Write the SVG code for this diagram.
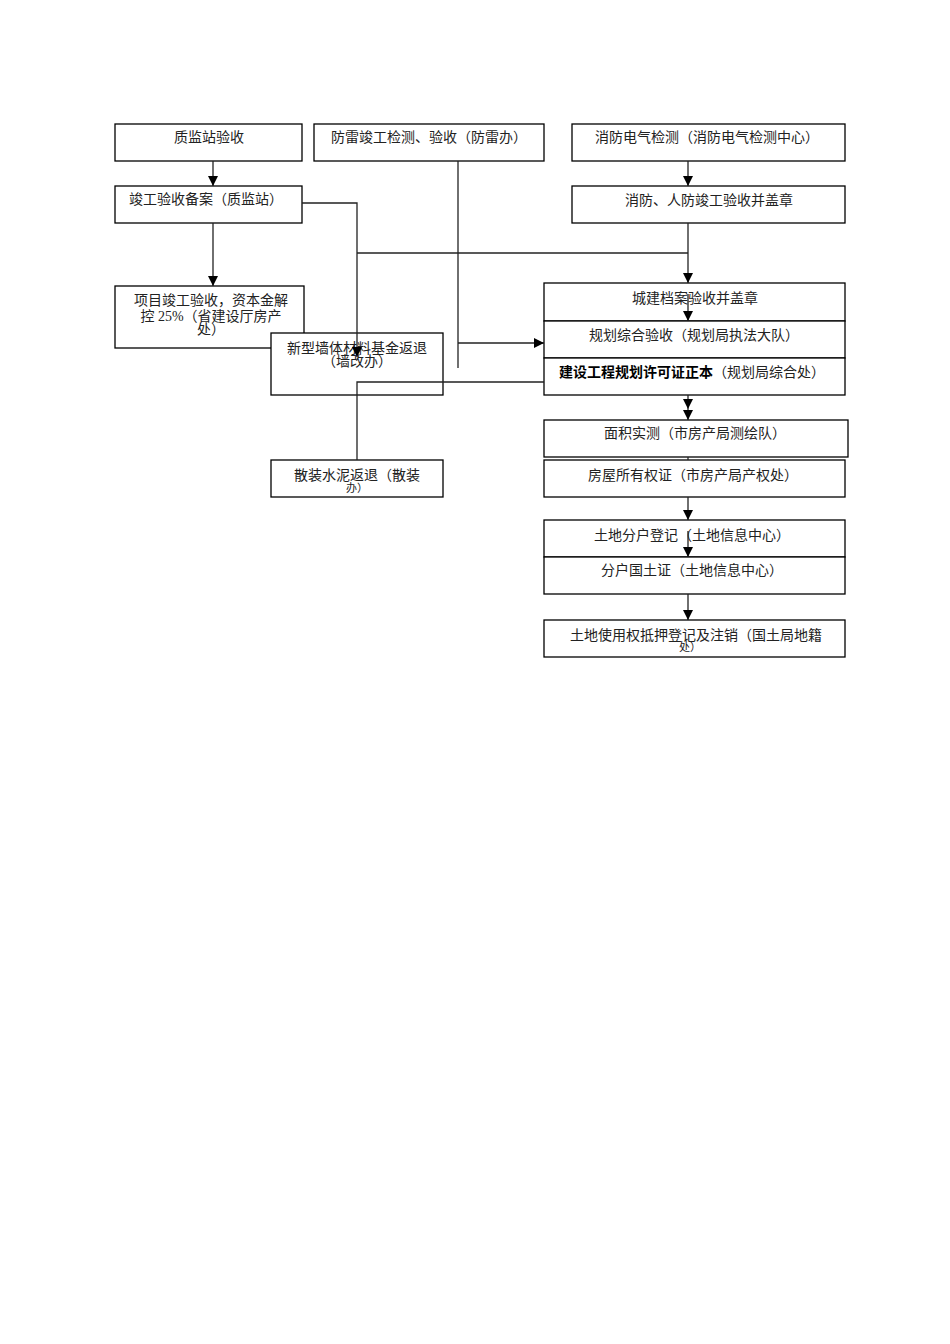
<svg xmlns="http://www.w3.org/2000/svg" width="950" height="1344" viewBox="0 0 950 1344">
<defs>
<marker id="arr" markerUnits="userSpaceOnUse" markerWidth="11" markerHeight="10" refX="10" refY="5" orient="auto" viewBox="0 0 11 10">
<path d="M0,0 L10,5 L0,10 Z" fill="#000"/>
</marker>
<style>
.box{fill:#fff;stroke:#000;stroke-width:1.3}
.t{font-family:"Liberation Serif","Noto Sans CJK SC",serif;font-size:14px;fill:#222;text-anchor:middle}
.s{font-size:11px}
.c{fill:none;stroke:#222;stroke-width:1.3}
</style>
</defs>
<rect width="950" height="1344" fill="#fff"/>

<g id="n1"><rect class="box" x="115" y="124" width="187" height="37"/><text class="t" x="209" y="142">质监站验收</text></g>
<g id="n2"><rect class="box" x="314" y="124" width="230" height="37"/><text class="t" x="429" y="142">防雷竣工检测、验收（防雷办）</text></g>
<g id="n3"><rect class="box" x="572" y="124" width="273" height="37"/><text class="t" x="707" y="142">消防电气检测（消防电气检测中心）</text></g>
<g id="n4"><rect class="box" x="115" y="186" width="187" height="37"/><text class="t" x="206" y="204">竣工验收备案（质监站）</text></g>
<g id="n5"><rect class="box" x="572" y="186" width="273" height="37"/><text class="t" x="709" y="205">消防、人防竣工验收并盖章</text></g>
<g id="n6"><rect class="box" x="115" y="286" width="189" height="62"/>
<text class="t" x="211" y="305">项目竣工验收，资本金解</text>
<text class="t" x="211" y="321">控 25%（省建设厅房产</text>
<text class="t" x="211" y="334">处）</text></g>
<g id="n7"><rect class="box" x="271" y="333" width="172" height="62"/>
<text class="t" x="357" y="353">新型墙体材料基金返退</text>
<text class="t" x="357" y="366">（墙改办）</text></g>
<g id="n16"><rect class="box" x="271" y="460" width="172" height="37"/>
<text class="t" x="357" y="480">散装水泥返退（散装</text>
<text class="t s" x="357" y="492">办）</text></g>
<g id="n8"><rect class="box" x="544" y="283" width="301" height="38"/><text class="t" x="695" y="303">城建档案验收并盖章</text></g>
<g id="n9"><rect class="box" x="544" y="321" width="301" height="37"/><text class="t" x="694" y="340">规划综合验收（规划局执法大队）</text></g>
<g id="n10"><rect class="box" x="544" y="358" width="301" height="37"/><text class="t" x="692" y="377"><tspan font-weight="bold" font-family="'Noto Sans CJK SC',sans-serif" fill="#000">建设工程规划许可证正本</tspan>（规划局综合处）</text></g>
<g id="n11"><rect class="box" x="544" y="420" width="304" height="37"/><text class="t" x="695" y="438">面积实测（市房产局测绘队）</text></g>
<g id="n12"><rect class="box" x="544" y="460" width="301" height="37"/><text class="t" x="693" y="480">房屋所有权证（市房产局产权处）</text></g>
<g id="n13"><rect class="box" x="544" y="520" width="301" height="37"/><text class="t" x="692" y="540">土地分户登记（土地信息中心）</text></g>
<g id="n14"><rect class="box" x="544" y="557" width="301" height="37"/><text class="t" x="692" y="575">分户国土证（土地信息中心）</text></g>
<g id="n15"><rect class="box" x="544" y="620" width="301" height="37"/>
<text class="t" x="696" y="640">土地使用权抵押登记及注销（国土局地籍</text>
<text class="t s" x="690" y="651">处）</text></g>

<g id="connectors">
<path class="c" d="M213,161 V186" marker-end="url(#arr)"/>
<path class="c" d="M213,223 V286" marker-end="url(#arr)"/>
<path class="c" d="M302,203 H357 V357" marker-end="url(#arr)"/>
<path class="c" d="M357,253 H688"/>
<path class="c" d="M458,161 V368"/>
<path class="c" d="M458,343 H544" marker-end="url(#arr)"/>
<path class="c" d="M688,161 V186" marker-end="url(#arr)"/>
<path class="c" d="M688,223 V283" marker-end="url(#arr)"/>
<path class="c" d="M688,294 V321" marker-end="url(#arr)"/>
<path class="c" d="M544,382 H357 V460"/>
<path class="c" d="M688,395 V409" marker-end="url(#arr)"/>
<path class="c" d="M688,409 V420" marker-end="url(#arr)"/>
<path class="c" d="M688,457 V460"/>
<path class="c" d="M688,497 V520" marker-end="url(#arr)"/>
<path class="c" d="M688,531 V557" marker-end="url(#arr)"/>
<path class="c" d="M688,594 V620" marker-end="url(#arr)"/>
</g>
</svg>
